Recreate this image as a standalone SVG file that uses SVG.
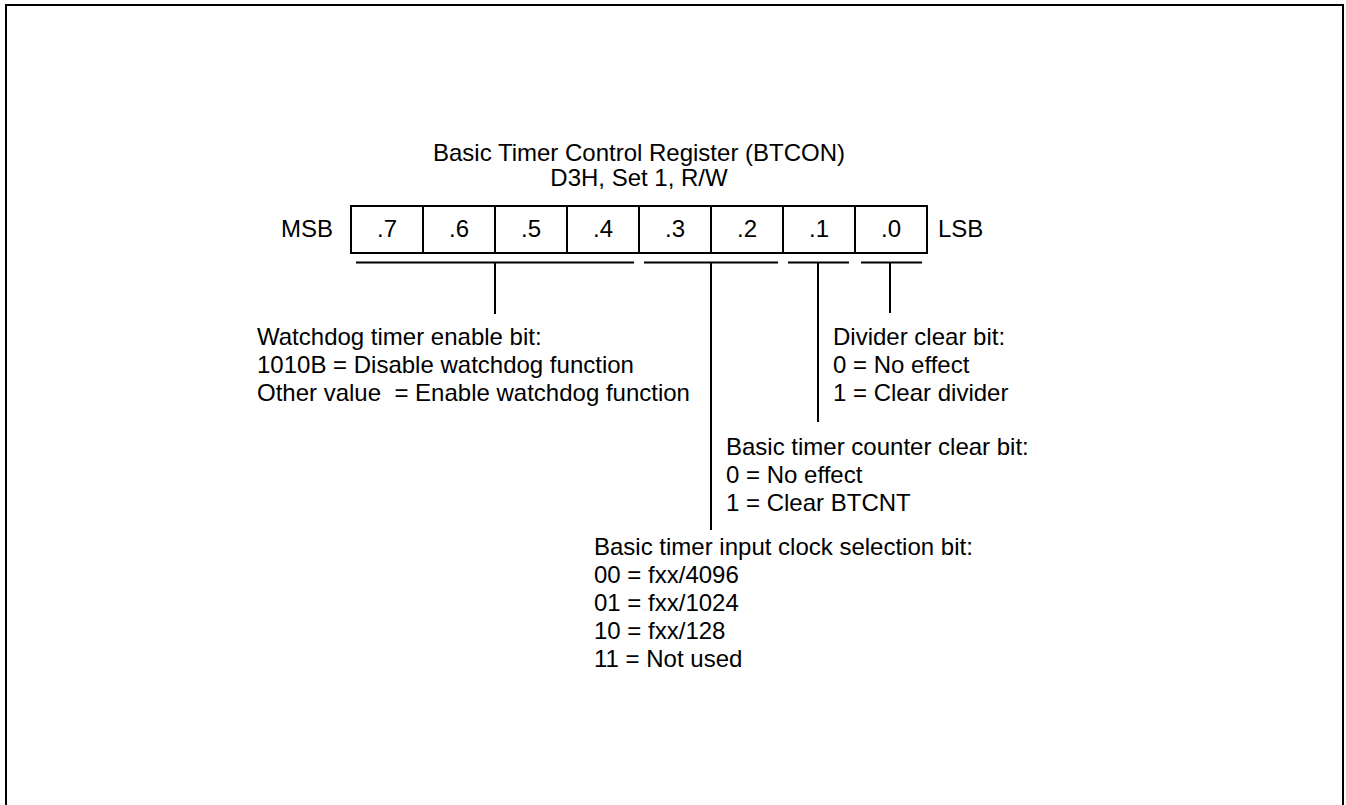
<svg xmlns="http://www.w3.org/2000/svg" width="1346" height="805" viewBox="0 0 1346 805">
<style>
text{font-family:"Liberation Sans",Arial,sans-serif;font-size:24px;fill:#000}
.c{text-anchor:middle}
.ln{stroke:#000;stroke-width:2;fill:none}
.bx{stroke:#000;stroke-width:2;fill:#fff}
</style>
<rect width="1346" height="805" fill="#fff"/>
<path class="ln" d="M6,805 V5 H1343 V805" stroke-width="2.5"/>
<g id="title">
<text class="c" x="639" y="161">Basic Timer Control Register (BTCON)</text>
<text class="c" x="639" y="186">D3H, Set 1, R/W</text>
</g>
<g id="register">
<rect class="bx" x="351" y="206" width="576" height="47"/>
<path class="ln" d="M423,206V253M495,206V253M567,206V253M639,206V253M711,206V253M783,206V253M855,206V253"/>
<text class="c" x="387" y="237">.7</text>
<text class="c" x="459" y="237">.6</text>
<text class="c" x="531" y="237">.5</text>
<text class="c" x="603" y="237">.4</text>
<text class="c" x="675" y="237">.3</text>
<text class="c" x="747" y="237">.2</text>
<text class="c" x="819" y="237">.1</text>
<text class="c" x="891" y="237">.0</text>
<text x="333" y="237" text-anchor="end">MSB</text>
<text x="938" y="237">LSB</text>
</g>
<g id="connectors">
<path class="ln" d="M356,262.5H634M495,262.5V314"/>
<path class="ln" d="M644,262.5H778M711,262.5V530"/>
<path class="ln" d="M788,262.5H849M818,262.5V422"/>
<path class="ln" d="M861,262.5H922M890,262.5V313"/>
</g>
<g id="watchdog">
<text x="257" y="345">Watchdog timer enable bit:</text>
<text x="257" y="373">1010B = Disable watchdog function</text>
<text x="257" y="401" xml:space="preserve">Other value  = Enable watchdog function</text>
</g>
<g id="divider">
<text x="833" y="345">Divider clear bit:</text>
<text x="833" y="373">0 = No effect</text>
<text x="833" y="401">1 = Clear divider</text>
</g>
<g id="counter">
<text x="726" y="455">Basic timer counter clear bit:</text>
<text x="726" y="483">0 = No effect</text>
<text x="726" y="511">1 = Clear BTCNT</text>
</g>
<g id="clock">
<text x="594" y="555">Basic timer input clock selection bit:</text>
<text x="594" y="583">00 = fxx/4096</text>
<text x="594" y="611">01 = fxx/1024</text>
<text x="594" y="639">10 = fxx/128</text>
<text x="594" y="667">11 = Not used</text>
</g>
</svg>
